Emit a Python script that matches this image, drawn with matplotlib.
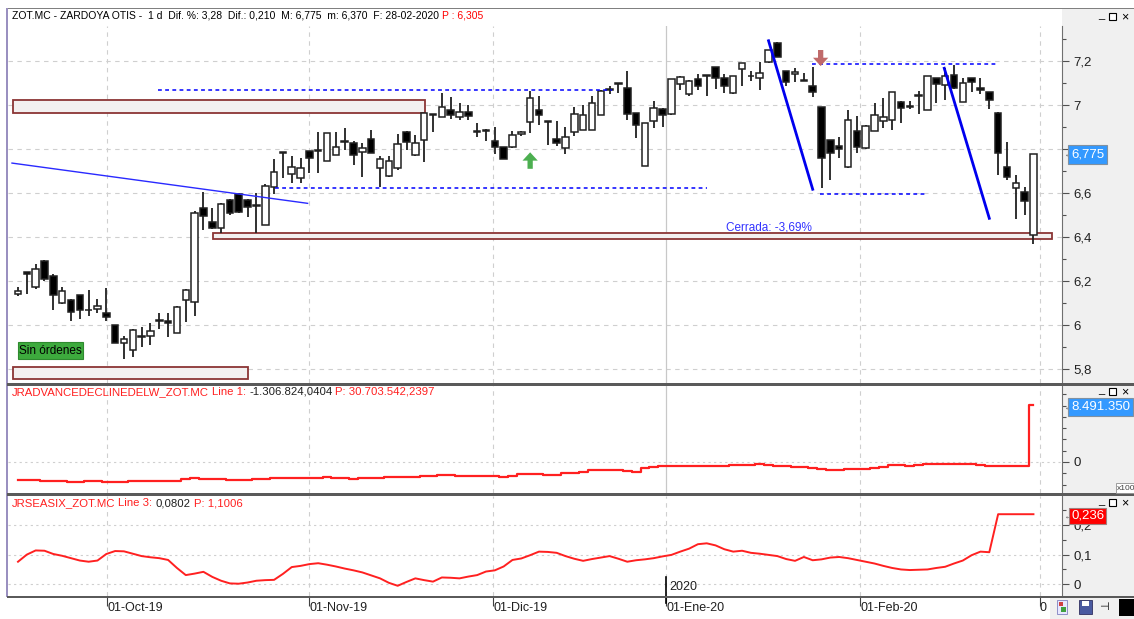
import matplotlib
matplotlib.use('Agg')
import matplotlib.pyplot as plt
from matplotlib.patches import Rectangle
import numpy as np

W, H = 1134, 619
FONT = ['Liberation Sans', 'DejaVu Sans']
plt.rcParams['font.family'] = FONT

# ---------------- data ----------------
opens = [6.14, 6.24, 6.175, 6.29, 6.225, 6.10, 6.115, 6.135, 6.068, 6.072,
         6.056, 6.0, 5.918, 5.885, 5.946, 5.95, 6.02, 6.02, 5.965, 6.114,
         6.106, 6.53, 6.47, 6.44, 6.568, 6.595, 6.568, 6.542, 6.456, 6.626,
         6.785, 6.686, 6.667, 6.79, 6.794, 6.745, 6.773, 6.834, 6.826, 6.785,
         6.847, 6.712, 6.677, 6.715, 6.879, 6.773, 6.841, 6.956, 6.947, 6.977,
         6.947, 6.97, 6.88, 6.888, 6.836, 6.808, 6.808, 6.868, 6.924, 6.977,
         6.926, 6.844, 6.803, 6.879, 6.886, 6.886, 6.955, 7.069, 7.1, 7.079,
         6.965, 6.723, 6.927, 6.982, 6.959, 7.095, 7.049, 7.117, 7.133, 7.171,
         7.121, 7.053, 7.162, 7.134, 7.121, 7.197, 7.283, 7.155, 7.14, 7.11,
         7.086, 6.989, 6.841, 6.814, 6.72, 6.883, 6.803, 6.883, 6.927, 6.932,
         7.015, 6.994, 7.043, 6.977, 7.121, 7.091, 7.136, 7.015, 7.121, 7.079,
         7.057, 6.965, 6.717, 6.624, 6.606, 6.41]
highs = [6.175, 6.242, 6.275, 6.295, 6.23, 6.175, 6.12, 6.135, 6.16, 6.117,
         6.167, 6.0, 5.95, 5.98, 5.99, 6.008, 6.053, 6.056, 6.085, 6.165,
         6.52, 6.605, 6.53, 6.555, 6.575, 6.60, 6.575, 6.599, 6.64, 6.755,
         6.786, 6.768, 6.758, 6.79, 6.879, 6.875, 6.879, 6.897, 6.835, 6.826,
         6.886, 6.768, 6.768, 6.868, 6.88, 6.864, 6.965, 6.958, 7.053, 7.035,
         7.008, 7.0, 6.917, 6.889, 6.901, 6.808, 6.883, 6.882, 7.065, 7.041,
         6.926, 6.927, 6.901, 6.993, 7.0, 7.041, 7.068, 7.086, 7.1, 7.156,
         6.965, 6.917, 7.02, 6.985, 7.12, 7.13, 7.112, 7.141, 7.134, 7.172,
         7.141, 7.133, 7.193, 7.156, 7.197, 7.252, 7.285, 7.156, 7.167, 7.144,
         7.174, 6.99, 6.842, 6.856, 6.977, 6.95, 6.91, 7.008, 7.03, 7.058,
         7.016, 7.02, 7.064, 7.133, 7.122, 7.167, 7.182, 7.121, 7.122, 7.121,
         7.06, 6.966, 6.833, 6.682, 6.626, 6.775]
lows = [6.13, 6.14, 6.165, 6.20, 6.07, 6.095, 6.02, 6.025, 6.04, 6.055,
        6.02, 5.92, 5.845, 5.853, 5.90, 5.91, 5.98, 5.947, 5.965, 6.015,
        6.04, 6.43, 6.435, 6.418, 6.50, 6.51, 6.49, 6.42, 6.455, 6.595,
        6.667, 6.644, 6.647, 6.69, 6.69, 6.745, 6.772, 6.795, 6.727, 6.674,
        6.78, 6.629, 6.675, 6.705, 6.795, 6.77, 6.742, 6.879, 6.945, 6.935,
        6.932, 6.932, 6.853, 6.836, 6.777, 6.753, 6.806, 6.859, 6.874, 6.909,
        6.818, 6.814, 6.777, 6.859, 6.885, 6.885, 6.955, 7.05, 7.053, 6.932,
        6.849, 6.723, 6.894, 6.901, 6.955, 7.068, 7.041, 7.068, 7.041, 7.071,
        7.056, 7.052, 7.086, 7.111, 7.068, 7.19, 7.218, 7.086, 7.106, 7.108,
        7.038, 6.621, 6.659, 6.758, 6.715, 6.783, 6.8, 6.88, 6.894, 6.886,
        6.92, 6.98, 6.959, 6.976, 7.008, 7.023, 7.075, 7.014, 7.061, 7.05,
        6.98, 6.682, 6.659, 6.48, 6.5, 6.37]
closes = [6.155, 6.232, 6.255, 6.21, 6.135, 6.155, 6.06, 6.07, 6.066, 6.086,
          6.038, 5.92, 5.936, 5.978, 5.944, 5.973, 6.018, 6.01, 6.08, 6.16,
          6.51, 6.495, 6.44, 6.55, 6.508, 6.515, 6.538, 6.540, 6.633, 6.695,
          6.78, 6.717, 6.715, 6.758, 6.792, 6.872, 6.811, 6.832, 6.773, 6.803,
          6.78, 6.753, 6.745, 6.822, 6.833, 6.826, 6.962, 6.953, 6.993, 6.955,
          6.97, 6.95, 6.878, 6.884, 6.808, 6.753, 6.862, 6.879, 7.033, 6.955,
          6.922, 6.829, 6.856, 6.959, 6.955, 7.008, 7.064, 7.067, 7.097, 6.959,
          6.909, 6.917, 6.988, 6.955, 7.117, 7.129, 7.111, 7.086, 7.131, 7.121,
          7.086, 7.132, 7.193, 7.13, 7.144, 7.25, 7.22, 7.106, 7.152, 7.108,
          7.061, 6.758, 6.783, 6.799, 6.932, 6.811, 6.905, 6.955, 6.944, 7.057,
          6.988, 6.992, 7.041, 7.132, 7.095, 7.13, 7.076, 7.099, 7.106, 7.068,
          7.023, 6.78, 6.674, 6.644, 6.565, 6.775]

# advance/decline line (millions)
adline = [-2.66, -2.70, -2.75, -2.76, -2.80, -2.85, -2.95, -3.00, -2.85, -2.88,
          -3.00, -3.00, -2.92, -2.90, -2.88, -2.88, -2.86, -2.85, -2.80, -2.55,
          -2.42, -2.55, -2.60, -2.55, -2.65, -2.70, -2.72, -2.60, -2.50, -2.40,
          -2.40, -2.38, -2.36, -2.34, -2.33, -2.30, -2.35, -2.45, -2.50, -2.45,
          -2.40, -2.35, -2.30, -2.25, -2.22, -2.20, -2.10, -2.05, -2.00, -1.95,
          -2.10, -2.05, -2.10, -2.10, -2.12, -2.25, -2.05, -1.80, -1.78, -1.85,
          -1.92, -1.88, -1.70, -1.62, -1.45, -1.25, -1.13, -1.13, -1.15, -1.30,
          -1.43, -0.90, -0.80, -0.60, -0.54, -0.56, -0.64, -0.64, -0.64, -0.64,
          -0.55, -0.50, -0.50, -0.44, -0.34, -0.45, -0.64, -0.66, -0.68, -0.74,
          -0.95, -1.10, -1.23, -1.20, -1.10, -1.03, -0.98, -0.93, -0.70, -0.44,
          -0.50, -0.54, -0.45, -0.30, -0.25, -0.28, -0.34, -0.30, -0.25, -0.40,
          -0.55, -0.64, -0.64, -0.64, -0.64, 8.49135]

seasix = [0.076, 0.100, 0.114, 0.113, 0.102, 0.096, 0.088, 0.080, 0.076, 0.080,
          0.102, 0.112, 0.111, 0.103, 0.095, 0.091, 0.088, 0.082, 0.055, 0.031,
          0.036, 0.042, 0.025, 0.012, 0.003, 0.002, 0.006, 0.012, 0.014, 0.015,
          0.035, 0.058, 0.062, 0.068, 0.071, 0.066, 0.060, 0.053, 0.047, 0.040,
          0.030, 0.020, 0.005, -0.005, 0.008, 0.020, 0.014, 0.009, 0.023, 0.022,
          0.020, 0.026, 0.031, 0.043, 0.047, 0.060, 0.082, 0.087, 0.098, 0.110,
          0.109, 0.106, 0.095, 0.086, 0.079, 0.085, 0.090, 0.095, 0.086, 0.076,
          0.081, 0.084, 0.088, 0.094, 0.099, 0.110, 0.120, 0.135, 0.138, 0.131,
          0.118, 0.110, 0.113, 0.106, 0.103, 0.099, 0.095, 0.085, 0.079, 0.092,
          0.081, 0.084, 0.090, 0.092, 0.088, 0.082, 0.076, 0.070, 0.062, 0.055,
          0.050, 0.048, 0.049, 0.050, 0.055, 0.059, 0.070, 0.080, 0.098, 0.110,
          0.108, 0.236, 0.236, 0.236, 0.236, 0.236]

month_labels = ['01-Oct-19', '01-Nov-19', '01-Dic-19', '01-Ene-20', '01-Feb-20', '0']
month_pos = [10.1, 33.0, 53.8, 73.4, 95.4, 115.7]

price_ticks = [5.8, 6.0, 6.2, 6.4, 6.6, 6.8, 7.0, 7.2]
price_labels = ['5,8', '6', '6,2', '6,4', '6,6', '', '7', '7,2']

# ---------------- helpers ----------------
X0, DX = 18.0, 8.83          # pixel of first candle and spacing
XL, XR = 8, 1062             # plot area edges (px)
xlim = ((XL - X0) / DX, (XR - X0) / DX)

def fbox(x0, y0, x1, y1):
    return [x0 / W, 1 - y1 / H, (x1 - x0) / W, (y1 - y0) / H]

fig = plt.figure(figsize=(W / 100, H / 100), dpi=100)
fig.patch.set_facecolor('white')

def frect(x0, y0, x1, y1, **kw):
    r = Rectangle((x0 / W, 1 - y1 / H), (x1 - x0) / W, (y1 - y0) / H,
                  transform=fig.transFigure, **kw)
    fig.patches.append(r)
    return r

def ftext(x, y, s, **kw):
    return fig.text(x / W, 1 - y / H, s, **kw)

renderer = fig.canvas.get_renderer()

def rich(x, y, parts, fs=8.5, gap=3):
    for s, c in parts:
        t = ftext(x, y, s, color=c, fontsize=fs, va='center', ha='left')
        x += t.get_window_extent(renderer).width + gap

# gray right columns (behind the axes)
for (a, b) in [(9, 383), (386, 493), (496, 596)]:
    frect(XR, a, W, b, facecolor='#f0f0f0', edgecolor='none', zorder=-5)

def style_axes(ax):
    ax.set_xlim(*xlim)
    for s in ['left', 'top', 'bottom']:
        ax.spines[s].set_visible(False)
    ax.spines['right'].set_color('#707070')
    ax.yaxis.tick_right()
    ax.tick_params(axis='y', direction='out', length=5, width=0.8, colors='#505050',
                   labelsize=9.5, labelcolor='#202020', pad=3)
    ax.tick_params(axis='y', which='minor', direction='out', length=3, width=0.8, colors='#505050')
    ax.set_xticks([])
    ax.set_facecolor('white')

# ---------------- main price panel ----------------
ax1 = fig.add_axes(fbox(XL, 26, XR, 383))
style_axes(ax1)
ax1.set_ylim(7.2 - (383 - 61) / 220, 7.2 + (61 - 26) / 220)
ax1.set_yticks(price_ticks)
ax1.set_yticklabels(price_labels)
ax1.set_yticks(np.arange(5.8, 7.35, 0.1), minor=True)

grid_kw = dict(color='#cfcfcf', lw=0.8, linestyle=(0, (4, 4)), zorder=0)
for p in price_ticks:
    ax1.axhline(p, **grid_kw)
for i, m in enumerate(month_pos):
    if month_labels[i] == '01-Ene-20':
        ax1.axvline(m, color='#c8c8c8', lw=0.9, zorder=0)
    else:
        ax1.axvline(m, **grid_kw)

idx = np.arange(len(opens))
bw = 0.74
for i in idx:
    o, h, l, c = opens[i], highs[i], lows[i], closes[i]
    ax1.vlines(i, l, h, color='#202020', lw=1.3, zorder=3)
    lo, hi = min(o, c), max(o, c)
    ht = max(hi - lo, 0.004)
    fc = 'white' if c >= o else 'black'
    ax1.add_patch(Rectangle((i - bw / 2, lo), bw, ht, facecolor=fc,
                            edgecolor='#202020', lw=1.1, zorder=4))

# resistance / support zones
zones = [(-0.57, 46.1, 6.965, 7.022), (22.1, 117.1, 6.393, 6.418), (-0.57, 26.05, 5.753, 5.811)]
for x0, x1, y0, y1 in zones:
    ax1.add_patch(Rectangle((x0, y0), x1 - x0, y1 - y0, facecolor='#f3f0f0',
                            edgecolor='#8b3535', lw=1.3, zorder=2))

# blue dotted levels
levels = [(15.9, 67.3, 7.066), (29.1, 78.0, 6.624), (89.9, 110.9, 7.186), (90.8, 103.0, 6.594)]
for x0, x1, y in levels:
    ax1.plot([x0, x1], [y, y], color='#0000ff', lw=1.1, linestyle=(0, (2.5, 2.2)), zorder=5)

# trend lines
ax1.plot([-0.68, 32.8], [6.736, 6.553], color='#2a2aff', lw=1.0, zorder=5)
ax1.plot([85.0, 90.0], [7.292, 6.617], color='#0000ee', lw=2.0, zorder=5)
ax1.plot([104.9, 110.0], [7.167, 6.485], color='#0000ee', lw=2.0, zorder=5)

ax1.text(89.9, 6.445, 'Cerrada: -3,69%', color='#3333ff', fontsize=8.5, ha='right', va='center', zorder=6)

arrow_style = 'simple,head_width=1.1,head_length=0.6,tail_width=0.38'
ax1.annotate('', xy=(58, 6.785), xytext=(58, 6.71),
             arrowprops=dict(arrowstyle=arrow_style, color='#4caf50', lw=0,
                             shrinkA=0, shrinkB=0, mutation_scale=10), zorder=6)
ax1.annotate('', xy=(90.9, 7.177), xytext=(90.9, 7.25),
             arrowprops=dict(arrowstyle=arrow_style, color='#c06a6a', lw=0,
                             shrinkA=0, shrinkB=0, mutation_scale=10), zorder=6)

# last price label
ftext(1063, 154.5, '←', color='#707070', fontsize=7, va='center', ha='left')
ftext(1071, 154.5, '6,775', color='white', fontsize=9.5, va='center', ha='left',
      bbox=dict(boxstyle='square,pad=0.25', facecolor='#3399ff', edgecolor='#8090a0', lw=0.8))

# Sin ordenes box
frect(18, 342, 83, 359, facecolor='#3daa3d', edgecolor='#2f8a2f', lw=0.8, zorder=5)
ftext(50.5, 351, 'Sin órdenes', color='black', fontsize=8.5, ha='center', va='center', zorder=6)

# header
rich(12, 16, [('ZOT.MC - ZARDOYA OTIS -  1 d  Dif. %: 3,28  Dif.: 0,210  M: 6,775  m: 6,370  F: 28-02-2020', 'black'),
              ('P : 6,305', '#ff0000')], fs=7.5)

# ---------------- advance/decline panel ----------------
ax2 = fig.add_axes(fbox(XL, 386, XR, 493))
style_axes(ax2)
scale = 0.148971  # millions per px
ax2.set_ylim(-(493 - 462) * scale, (462 - 386) * scale)
ax2.set_yticks([0])
ax2.set_yticklabels(['0'])
ax2.set_yticks(np.arange(-2 * 1.68, 11, 1.68), minor=True)
ax2.axhline(0, color='#cfcfcf', lw=0.8, linestyle=(0, (2, 3)), zorder=0)
for i, m in enumerate(month_pos):
    if month_labels[i] == '01-Ene-20':
        ax2.axvline(m, color='#c8c8c8', lw=0.9, zorder=0)
    else:
        ax2.axvline(m, **grid_kw)
ax2.plot(idx, adline, color='#ff2020', lw=1.6, drawstyle='steps-mid', zorder=3)
rich(12, 392, [('JRADVANCEDECLINEDELW_ZOT.MC', '#ff2020'), ('Line 1:', '#ff2020'),
               ('-1.306.824,0404', '#202020'), ('P: 30.703.542,2397', '#ff2020')], fs=8.2)
ftext(1063, 407, '←', color='#707070', fontsize=7, va='center', ha='left')
ftext(1071, 407, '8.491.350', color='white', fontsize=9.5, va='center', ha='left',
      bbox=dict(boxstyle='square,pad=0.25', facecolor='#3399ff', edgecolor='#8090a0', lw=0.8))
ftext(1117, 488, 'x100', color='#404040', fontsize=6, va='center', ha='left',
      bbox=dict(boxstyle='square,pad=0.15', facecolor='white', edgecolor='#909090', lw=0.6))

# ---------------- seasix panel ----------------
ax3 = fig.add_axes(fbox(XL, 496, XR, 596))
style_axes(ax3)
ax3.set_ylim(-(596 - 584.3) / 297, (584.3 - 496) / 297)
ax3.set_yticks([0, 0.1, 0.2])
ax3.set_yticklabels(['0', '0,1', '0,2'])
ax3.set_yticks([0.05, 0.15, 0.25], minor=True)
for v in [0, 0.1, 0.2]:
    ax3.axhline(v, color='#cfcfcf', lw=0.8, linestyle=(0, (2, 3)), zorder=0)
for i, m in enumerate(month_pos):
    ax3.axvline(m, **grid_kw)
ax3.plot(idx, seasix, color='#ff2020', lw=1.4, zorder=3)
rich(12, 503, [('JRSEASIX_ZOT.MC', '#ff2020'), ('Line 3:', '#ff2020'),
               ('0,0802', '#202020'), ('P: 1,1006', '#ff2020')], fs=8.2)
ftext(1063, 516, '←', color='#707070', fontsize=7, va='center', ha='left')
ftext(1071, 516, '0,236', color='white', fontsize=9.5, va='center', ha='left',
      bbox=dict(boxstyle='square,pad=0.15', facecolor='#ff0000', edgecolor='#a08080', lw=0.8))

# year marker
jan = month_pos[3]
ax3.plot([jan, jan], [-(577 - 584.3) / 297, -(603 - 584.3) / 297], color='black', lw=1.2,
         zorder=4, clip_on=False)
ax3.text(jan + 0.4, -(587 - 584.3) / 297, '2020', fontsize=9, va='center', ha='left', color='#202020')

# date axis
ax3.set_xticks(month_pos)
ax3.set_xticklabels(month_labels, ha='left', fontsize=9)
ax3.tick_params(axis='x', direction='out', length=7, width=0.8, colors='#404040',
                labelcolor='#202020', pad=-3)

# ---------------- frame lines / separators ----------------
frect(7, 8, W, 9, facecolor='#808080', edgecolor='none')
frect(6, 8, 7.5, 597, facecolor='#9a90c0', edgecolor='none')
for y in [383, 493]:
    frect(7, y, W, y + 3, facecolor='#5a5a5a', edgecolor='none')
frect(7, 596, W, 597.5, facecolor='#5a5a5a', edgecolor='none')

# window buttons
for y in [17, 392, 503]:
    ftext(1101, y - 2, '_', fontsize=8, va='center', ha='center', color='black')
    frect(1109, y - 4, 1116, y + 3, facecolor='white', edgecolor='black', lw=0.8)
    ftext(1125, y, '×', fontsize=9, va='center', ha='center', color='black')

# bottom-right toolbar
frect(1050, 598, W, 619, facecolor='#f0f0f0', edgecolor='none')
frect(1057, 600, 1067, 614, facecolor='#e8e8ff', edgecolor='#8080c0', lw=0.6)
frect(1059, 602, 1063, 606, facecolor='#d04040', edgecolor='none')
frect(1061, 607, 1066, 612, facecolor='#40a040', edgecolor='none')
frect(1079, 600, 1092, 614, facecolor='#4a5aa0', edgecolor='#303060', lw=0.6)
frect(1082, 601, 1089, 606, facecolor='white', edgecolor='none')
ftext(1104, 607, '⊣', fontsize=8, va='center', ha='center', color='black')
frect(1119, 599, W, 616, facecolor='black', edgecolor='none')

fig.savefig('out.png', dpi=100)
